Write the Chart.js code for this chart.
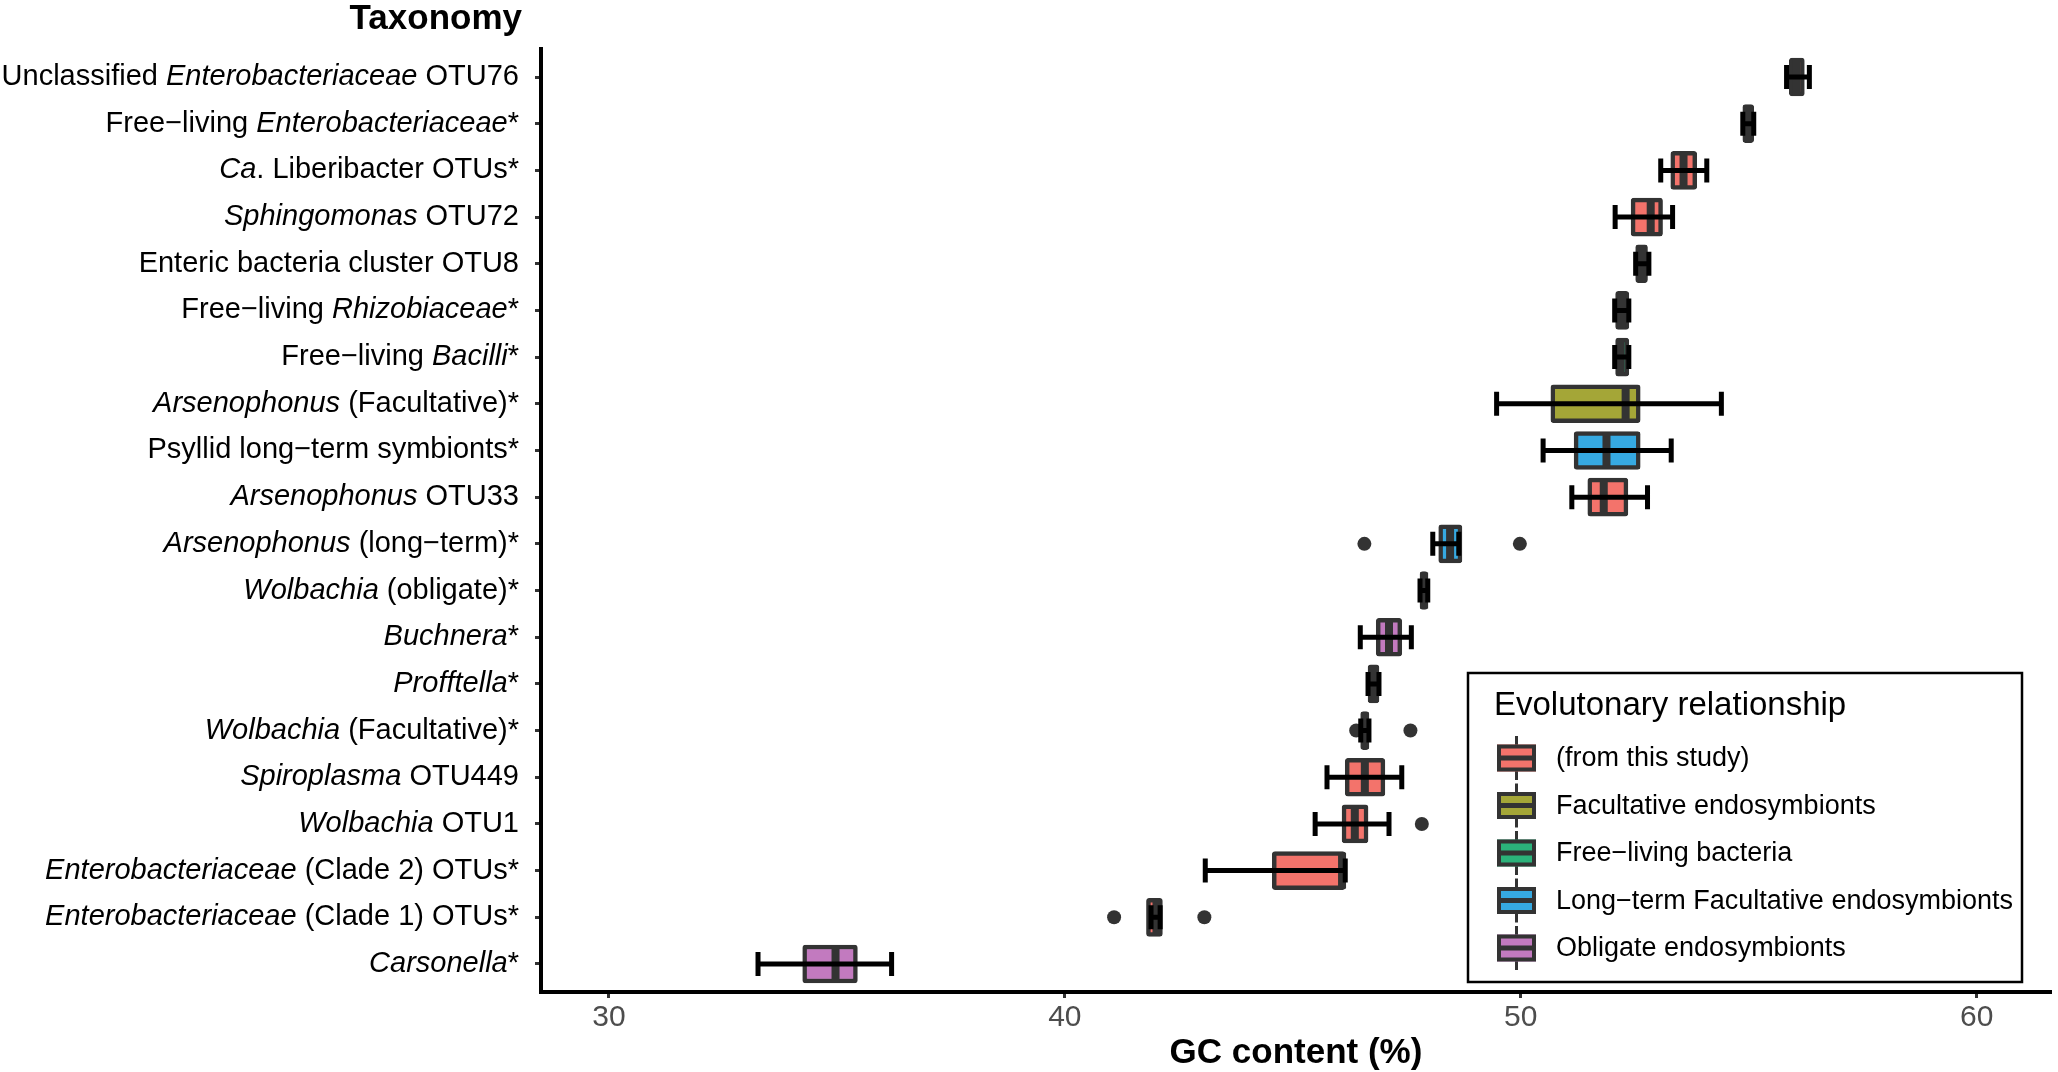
<!DOCTYPE html>
<html>
<head>
<meta charset="utf-8">
<title>GC content by taxonomy</title>
<script src="https://cdn.jsdelivr.net/npm/chart.js@4.4.1/dist/chart.umd.min.js"></script>
<style>
  html, body { margin: 0; padding: 0; background: #fff; }
  #wrap { width: 2058px; height: 1072px; }
</style>
</head>
<body>
<div id="wrap"><canvas id="gcChart" width="2058" height="1072"></canvas></div>
<script>
// text between underscores is set in italics
var categories = [
  'Unclassified _Enterobacteriaceae_ OTU76',
  'Free\u2212living _Enterobacteriaceae_*',
  '_Ca_. Liberibacter OTUs*',
  '_Sphingomonas_ OTU72',
  'Enteric bacteria cluster OTU8',
  'Free\u2212living _Rhizobiaceae_*',
  'Free\u2212living _Bacilli_*',
  '_Arsenophonus_ (Facultative)*',
  'Psyllid long\u2212term symbionts*',
  '_Arsenophonus_ OTU33',
  '_Arsenophonus_ (long\u2212term)*',
  '_Wolbachia_ (obligate)*',
  '_Buchnera_*',
  '_Profftella_*',
  '_Wolbachia_ (Facultative)*',
  '_Spiroplasma_ OTU449',
  '_Wolbachia_ OTU1',
  '_Enterobacteriaceae_ (Clade 2) OTUs*',
  '_Enterobacteriaceae_ (Clade 1) OTUs*',
  '_Carsonella_*'
];

var q1          = [55.89, 54.87, 53.29, 52.42, 52.52, 52.08, 52.08, 50.66, 51.17, 51.47, 48.20, 47.79, 46.83, 46.65, 46.49, 46.15, 46.08, 44.55, 41.79, 34.25];
var median      = [56.05, 55.00, 53.57, 52.85, 52.65, 52.21, 52.19, 52.30, 51.88, 51.82, 48.45, 47.88, 47.11, 46.78, 46.58, 46.58, 46.36, 46.08, 42.01, 34.97];
var q3          = [56.22, 55.11, 53.86, 53.11, 52.78, 52.37, 52.37, 52.62, 52.62, 52.35, 48.71, 47.96, 47.39, 46.89, 46.67, 47.02, 46.65, 46.15, 42.14, 35.45];
var whiskerLow  = [55.83, 54.87, 53.07, 52.07, 52.52, 52.06, 52.06, 49.47, 50.49, 51.12, 48.07, 47.79, 46.48, 46.65, 46.49, 45.75, 45.49, 43.08, 41.89, 33.27];
var whiskerHigh = [56.33, 55.11, 54.08, 53.33, 52.81, 52.37, 52.37, 54.40, 53.30, 52.78, 48.64, 47.96, 47.60, 46.89, 46.67, 47.39, 47.11, 46.15, 42.09, 36.20];
var outliers    = [[], [], [], [], [], [], [], [], [], [], [46.57, 49.98], [], [], [], [46.39, 47.58], [], [47.83], [], [41.08, 43.06], []];

var groupNames  = ['(from this study)', 'Facultative endosymbionts', 'Free\u2212living bacteria', 'Long\u2212term Facultative endosymbionts', 'Obligate endosymbionts'];
var groupColors = ['#F3736B', '#A4A637', '#2BB27A', '#36A9E1', '#C27ABF'];
var groupOf     = [0, 2, 0, 0, 0, 2, 2, 1, 3, 0, 3, 4, 4, 4, 1, 0, 0, 0, 0, 4];

var xTicks = [30, 40, 50, 60];

var FONT = "'Liberation Sans', Arial, Helvetica, sans-serif";
var BOX_H = 38;
var CAP_H = 24;

Chart.defaults.font.family = FONT;

var boxData = [];
var outlierData = [];
for (var i = 0; i < categories.length; i++) {
  boxData.push({ x: [q1[i], q3[i]], y: i });
  for (var j = 0; j < outliers[i].length; j++) {
    outlierData.push({ x: outliers[i][j], y: i });
  }
}

function drawRichLabel(ctx, text, xRight, y, size) {
  var parts = text.split('_');
  var widths = [];
  var total = 0;
  for (var k = 0; k < parts.length; k++) {
    ctx.font = (k % 2 ? 'italic ' : '') + size + 'px ' + FONT;
    widths.push(ctx.measureText(parts[k]).width);
    total += widths[k];
  }
  var x = xRight - total;
  for (k = 0; k < parts.length; k++) {
    ctx.font = (k % 2 ? 'italic ' : '') + size + 'px ' + FONT;
    ctx.fillText(parts[k], x, y);
    x += widths[k];
  }
}

// medians and error bars, drawn right after the boxes
var boxParts = {
  id: 'boxParts',
  afterDatasetDraw: function(chart, args) {
    if (args.index !== 0) return;
    var ctx = chart.ctx, xs = chart.scales.x, ys = chart.scales.y;
    ctx.save();
    ctx.lineCap = 'butt';
    for (var i = 0; i < categories.length; i++) {
      var y = ys.getPixelForValue(i);
      var xm = xs.getPixelForValue(median[i]);
      ctx.strokeStyle = '#333333';
      ctx.lineWidth = 8;
      ctx.beginPath();
      ctx.moveTo(xm, y - BOX_H / 2 + 1);
      ctx.lineTo(xm, y + BOX_H / 2 - 1);
      ctx.stroke();

      var x0 = xs.getPixelForValue(whiskerLow[i]);
      var x1 = xs.getPixelForValue(whiskerHigh[i]);
      ctx.strokeStyle = '#000000';
      ctx.lineWidth = 5;
      ctx.beginPath();
      ctx.moveTo(x0, y); ctx.lineTo(x1, y);
      ctx.moveTo(x0, y - CAP_H / 2); ctx.lineTo(x0, y + CAP_H / 2);
      ctx.moveTo(x1, y - CAP_H / 2); ctx.lineTo(x1, y + CAP_H / 2);
      ctx.stroke();
    }
    ctx.restore();
  }
};

// category labels with italics, axis title and the legend box
var decorations = {
  id: 'decorations',
  afterDraw: function(chart) {
    var ctx = chart.ctx, ys = chart.scales.y;
    ctx.save();
    ctx.fillStyle = '#000';
    ctx.textBaseline = 'middle';
    ctx.textAlign = 'left';
    var labelRight = ys.right - 22;
    for (var i = 0; i < categories.length; i++) {
      drawRichLabel(ctx, categories[i], labelRight, ys.getPixelForValue(i), 29);
    }
    ctx.font = 'bold 35px ' + FONT;
    ctx.textAlign = 'right';
    ctx.fillText('Taxonomy', labelRight + 3, 19);

    // legend
    var lx = 1468, ly = 673, lw = 554, lh = 309;
    ctx.lineWidth = 2.5;
    ctx.strokeStyle = '#000';
    ctx.strokeRect(lx, ly, lw, lh);
    ctx.textAlign = 'left';
    ctx.font = '33px ' + FONT;
    ctx.fillText('Evolutonary relationship', lx + 26, ly + 33);
    ctx.font = '27px ' + FONT;
    for (var g = 0; g < groupNames.length; g++) {
      var cy = ly + 85 + g * 47.5;
      var kx = lx + 29, kw = 39, kh = 27;
      ctx.strokeStyle = '#333333';
      ctx.lineWidth = 3;
      ctx.beginPath();
      ctx.moveTo(kx + kw / 2, cy - 22); ctx.lineTo(kx + kw / 2, cy + 22);
      ctx.stroke();
      ctx.fillStyle = groupColors[g];
      ctx.fillRect(kx, cy - kh / 2, kw, kh);
      ctx.lineWidth = 4;
      ctx.strokeRect(kx + 2, cy - kh / 2 + 2, kw - 4, kh - 4);
      ctx.lineWidth = 5;
      ctx.beginPath();
      ctx.moveTo(kx, cy); ctx.lineTo(kx + kw, cy);
      ctx.stroke();
      ctx.fillStyle = '#000';
      ctx.fillText(groupNames[g], lx + 88, cy + 1);
    }
    ctx.restore();
  }
};

var ctx = document.getElementById('gcChart');
var gcChart = new Chart(ctx, {
  type: 'bar',
  data: {
    datasets: [
      {
        label: 'box',
        indexAxis: 'y',
        data: boxData,
        backgroundColor: groupOf.map(function(g) { return groupColors[g]; }),
        borderColor: '#333333',
        borderWidth: 4.5,
        borderRadius: 3,
        borderSkipped: false,
        barThickness: BOX_H
      },
      {
        label: 'outliers',
        type: 'scatter',
        data: outlierData,
        pointRadius: 7,
        pointHoverRadius: 7,
        backgroundColor: '#333333',
        borderWidth: 0
      }
    ]
  },
  options: {
    responsive: false,
    animation: false,
    events: [],
    layout: { padding: { top: 49, right: 5, left: 0, bottom: 0 } },
    plugins: { legend: { display: false }, tooltip: { enabled: false } },
    scales: {
      x: {
        type: 'linear',
        position: 'bottom',
        offset: false,
        min: 28.51,
        max: 61.63,
        afterBuildTicks: function(scale) {
          scale.ticks = xTicks.map(function(v) { return { value: v }; });
        },
        afterFit: function(scale) { scale.height = 80; },
        ticks: {
          color: '#4d4d4d',
          font: { size: 30 },
          padding: 2,
          autoSkip: false,
          maxRotation: 0,
          callback: function(v) { return String(v); }
        },
        grid: { offset: false, drawOnChartArea: false, drawTicks: true, tickLength: 6, tickColor: '#333333', tickWidth: 3 },
        border: { display: true, color: '#000', width: 4 },
        title: {
          display: true,
          text: 'GC content (%)',
          color: '#000',
          font: { size: 35, weight: 'bold' },
          padding: { top: 0, bottom: -2 }
        }
      },
      y: {
        type: 'linear',
        position: 'left',
        offset: false,
        reverse: true,
        min: -0.6,
        max: categories.length - 0.4,
        afterBuildTicks: function(scale) {
          scale.ticks = categories.map(function(c, i) { return { value: i }; });
        },
        afterFit: function(scale) { scale.width = 541; },
        ticks: { autoSkip: false, callback: function() { return ''; } },
        grid: { offset: false, drawOnChartArea: false, drawTicks: true, tickLength: 6, tickColor: '#333333', tickWidth: 3 },
        border: { display: true, color: '#000', width: 4 }
      }
    }
  },
  plugins: [boxParts, decorations]
});
</script>
</body>
</html>
